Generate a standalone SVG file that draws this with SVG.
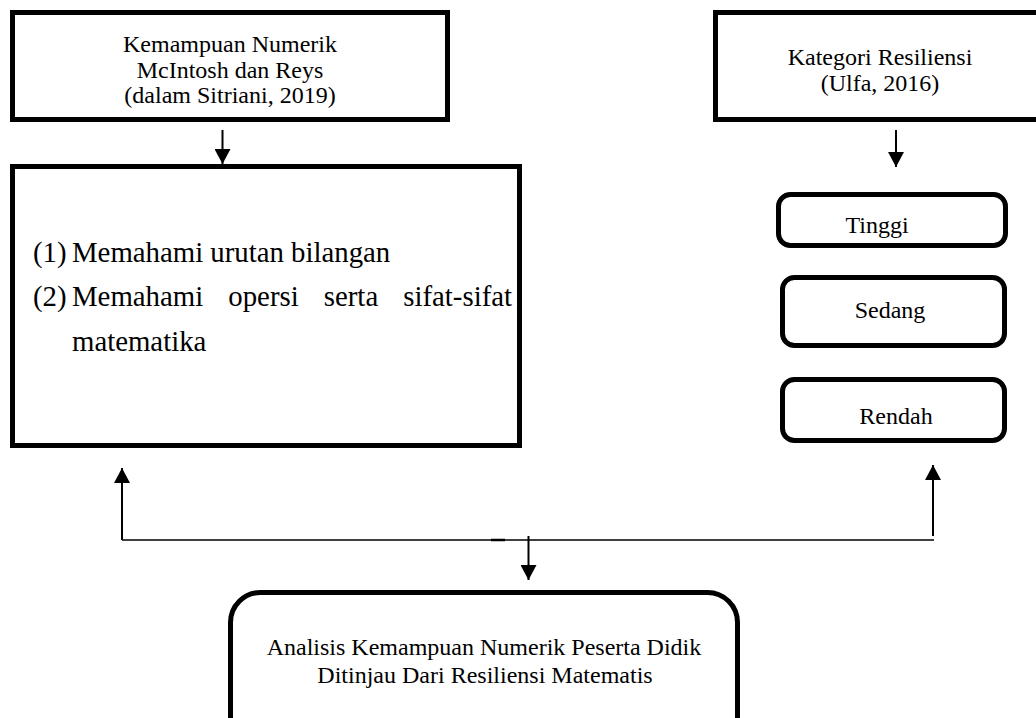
<svg xmlns="http://www.w3.org/2000/svg" width="1036" height="718" viewBox="0 0 1036 718">
  <style>
    .box { fill: #fff; stroke: #000; stroke-width: 5; }
    .t { font-family: "Liberation Serif", "Times New Roman", serif; font-size: 24px; fill: #000; }
    .c { text-anchor: middle; }
    .lst { font-family: "Liberation Serif", "Times New Roman", serif; font-size: 28.8px; fill: #000; }
    .ln { stroke: #000; stroke-width: 2; fill: none; }
    .hl { stroke: #000; stroke-width: 1.5; fill: none; }
  </style>
  <defs>
    <marker id="arr" markerUnits="userSpaceOnUse" markerWidth="16" markerHeight="16" refX="15" refY="8" orient="auto">
      <path d="M0,0 L15,8 L0,16 Z" fill="#000"/>
    </marker>
  </defs>

  <g id="node-numerik-source">
    <rect class="box" x="12.5" y="12.5" width="435" height="107"/>
    <text class="t c" x="230" y="52">Kemampuan Numerik</text>
    <text class="t c" x="230" y="78">McIntosh dan Reys</text>
    <text class="t c" x="230" y="103">(dalam Sitriani, 2019)</text>
  </g>

  <g id="node-numerik-indicators">
    <rect class="box" x="12.5" y="166.5" width="507" height="279"/>
    <text class="lst" x="33" y="262">(1)</text>
    <text class="lst" x="72" y="262">Memahami urutan bilangan</text>
    <text class="lst" x="33" y="306">(2)</text>
    <text class="lst" x="72" y="306">Memahami</text>
    <text class="lst" x="228.3" y="306">opersi</text>
    <text class="lst" x="323.8" y="306">serta</text>
    <text class="lst" x="512" y="306" text-anchor="end">sifat-sifat</text>
    <text class="lst" x="72" y="351">matematika</text>
  </g>

  <g id="node-resiliensi-source">
    <rect class="box" x="715.5" y="12.5" width="340" height="107"/>
    <text class="t c" x="880" y="65">Kategori Resiliensi</text>
    <text class="t c" x="880" y="91">(Ulfa, 2016)</text>
  </g>

  <g id="node-tinggi">
    <rect class="box" x="778.5" y="194.5" width="227" height="51" rx="12"/>
    <text class="t c" x="877" y="233">Tinggi</text>
  </g>

  <g id="node-sedang">
    <rect class="box" x="782.5" y="277.5" width="222" height="68" rx="12"/>
    <text class="t c" x="890" y="318">Sedang</text>
  </g>

  <g id="node-rendah">
    <rect class="box" x="782.5" y="379.5" width="222" height="61" rx="12"/>
    <text class="t c" x="896" y="424">Rendah</text>
  </g>

  <g id="node-analisis">
    <rect class="box" x="230.5" y="592.5" width="507" height="170" rx="30"/>
    <text class="t c" x="484" y="655">Analisis Kemampuan Numerik Peserta Didik</text>
    <text class="t c" x="485" y="683">Ditinjau Dari Resiliensi Matematis</text>
  </g>

  <g id="connectors">
    <line class="ln" x1="222.5" y1="130" x2="222.5" y2="164" marker-end="url(#arr)"/>
    <line class="ln" x1="896" y1="130" x2="896" y2="167" marker-end="url(#arr)"/>
    <line class="hl" x1="122" y1="540" x2="934" y2="540"/>
    <line class="ln" x1="122" y1="540" x2="122" y2="468" marker-end="url(#arr)"/>
    <line class="ln" x1="933" y1="536" x2="933" y2="465" marker-end="url(#arr)"/>
    <line class="ln" x1="528.5" y1="536" x2="528.5" y2="580" marker-end="url(#arr)"/>
    <line stroke="#000" stroke-width="2.5" x1="491" y1="540" x2="505" y2="540"/>
  </g>
</svg>
